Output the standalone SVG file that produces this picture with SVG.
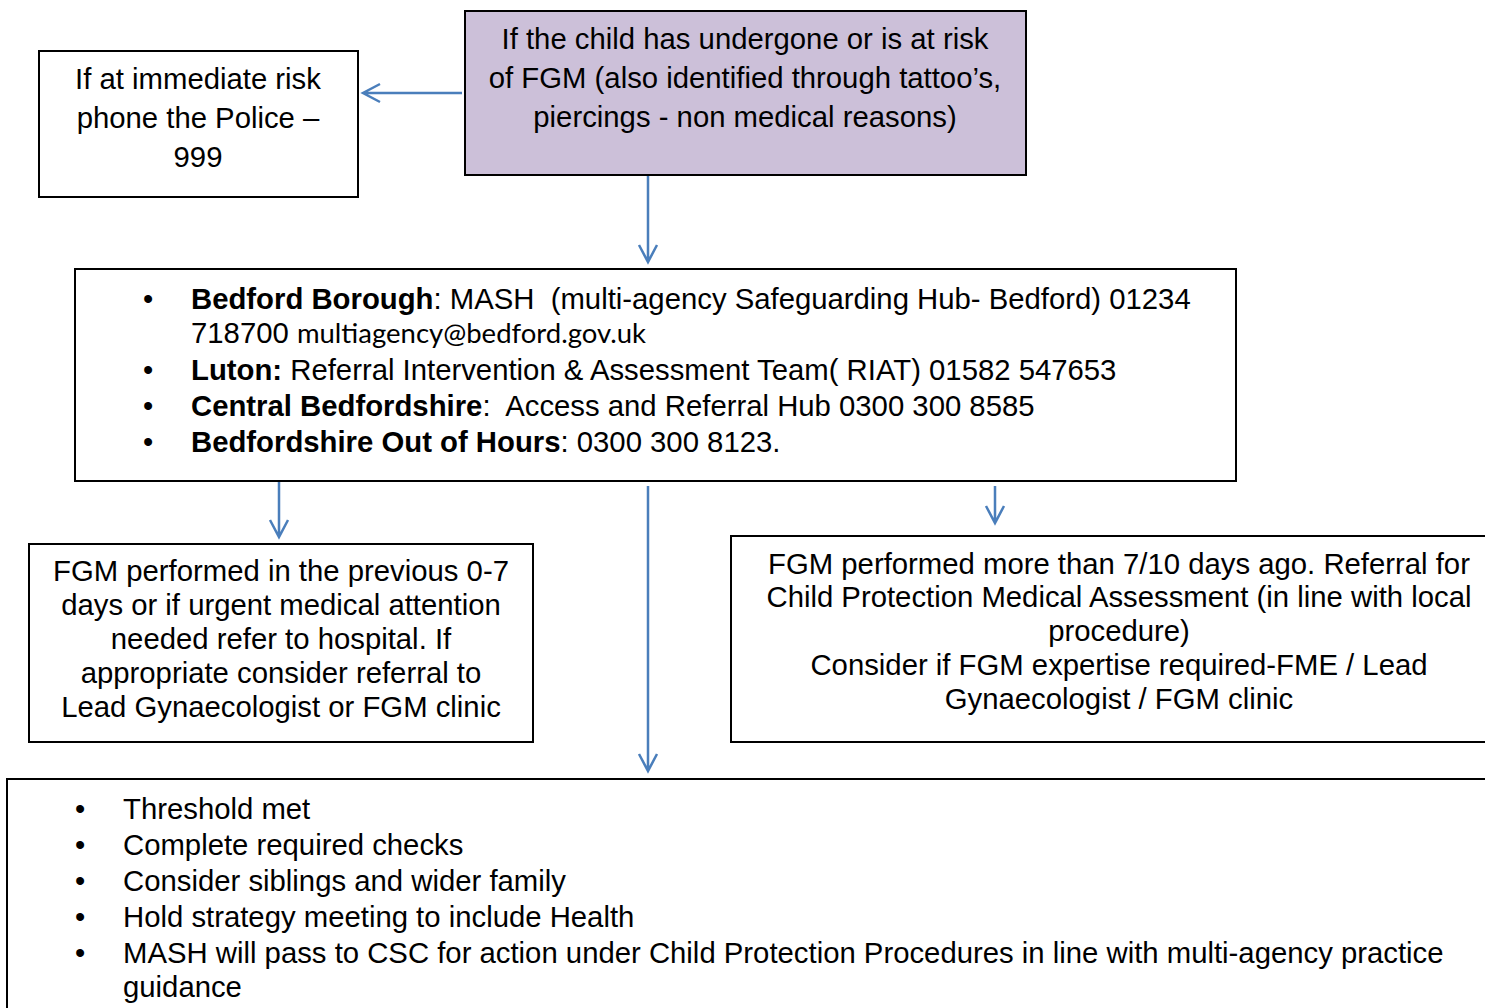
<svg xmlns="http://www.w3.org/2000/svg" width="1485" height="1008" viewBox="0 0 1485 1008">
<style>
.box{fill:#fff;stroke:#000;stroke-width:2}
.t{font-family:"Liberation Sans",Arial,sans-serif;font-size:29.3px;fill:#000;white-space:pre}
.c{text-anchor:middle}
.b{font-weight:bold}
.em{font-family:Lato,"Open Sans",sans-serif;font-size:27.5px}
.con{stroke:#4a7ebb;stroke-width:2.5;fill:none}
</style>
<rect width="1485" height="1008" fill="#fff"/>
<g id="connectors">
<path class="con" d="M462 93 H363 M380 84 L363 93 L380 102"/>
<path class="con" d="M648 176 V262 M639 245 L648 262 L657 245"/>
<path class="con" d="M279 482 V537 M270 520 L279 537 L288 520"/>
<path class="con" d="M648 486 V771 M639 754 L648 771 L657 754"/>
<path class="con" d="M995 486 V523 M986 506 L995 523 L1004 506"/>
</g>
<g id="node-start">
<rect x="465" y="11" width="561" height="164" fill="#ccc0d9" stroke="#000" stroke-width="2"/>
<text class="t c" x="745" y="49">If the child has undergone or is at risk</text>
<text class="t c" x="745" y="88">of FGM (also identified through tattoo’s,</text>
<text class="t c" x="745" y="127">piercings - non medical reasons)</text>
</g>
<g id="node-police">
<rect class="box" x="39" y="51" width="319" height="146"/>
<text class="t c" x="198" y="89">If at immediate risk</text>
<text class="t c" x="198" y="128">phone the Police –</text>
<text class="t c" x="198" y="167">999</text>
</g>
<g id="node-contacts">
<rect class="box" x="75" y="269" width="1161" height="212"/>
<g class="t">
<text x="143" y="309">•</text>
<text x="191" y="309" xml:space="preserve"><tspan class="b">Bedford Borough</tspan>: MASH  (multi-agency Safeguarding Hub- Bedford) 01234</text>
<text x="191" y="343">718700 <tspan class="em">multiagency@bedford.gov.uk</tspan></text>
<text x="143" y="380">•</text>
<text x="191" y="380"><tspan class="b">Luton:</tspan> Referral Intervention &amp; Assessment Team( RIAT) 01582 547653</text>
<text x="143" y="416">•</text>
<text x="191" y="416" xml:space="preserve"><tspan class="b">Central Bedfordshire</tspan>:  Access and Referral Hub 0300 300 8585</text>
<text x="143" y="452">•</text>
<text x="191" y="452"><tspan class="b">Bedfordshire Out of Hours</tspan>: 0300 300 8123.</text>
</g>
</g>
<g id="node-recent">
<rect class="box" x="29" y="544" width="504" height="198"/>
<text class="t c" x="281" y="581">FGM performed in the previous 0-7</text>
<text class="t c" x="281" y="615">days or if urgent medical attention</text>
<text class="t c" x="281" y="649">needed refer to hospital. If</text>
<text class="t c" x="281" y="683">appropriate consider referral to</text>
<text class="t c" x="281" y="717">Lead Gynaecologist or FGM clinic</text>
</g>
<g id="node-older">
<rect class="box" x="731" y="536" width="780" height="206"/>
<text class="t c" x="1119" y="574">FGM performed more than 7/10 days ago. Referral for</text>
<text class="t c" x="1119" y="607">Child Protection Medical Assessment (in line with local</text>
<text class="t c" x="1119" y="641">procedure)</text>
<text class="t c" x="1119" y="675">Consider if FGM expertise required-FME / Lead</text>
<text class="t c" x="1119" y="709">Gynaecologist / FGM clinic</text>
</g>
<g id="node-actions">
<rect class="box" x="7" y="779" width="1510" height="260"/>
<g class="t">
<text x="75" y="819">•</text><text x="123" y="819">Threshold met</text>
<text x="75" y="855">•</text><text x="123" y="855">Complete required checks</text>
<text x="75" y="891">•</text><text x="123" y="891">Consider siblings and wider family</text>
<text x="75" y="927">•</text><text x="123" y="927">Hold strategy meeting to include Health</text>
<text x="75" y="963">•</text><text x="123" y="963">MASH will pass to CSC for action under Child Protection Procedures in line with multi-agency practice</text>
<text x="123" y="997">guidance</text>
</g>
</g>
</svg>
